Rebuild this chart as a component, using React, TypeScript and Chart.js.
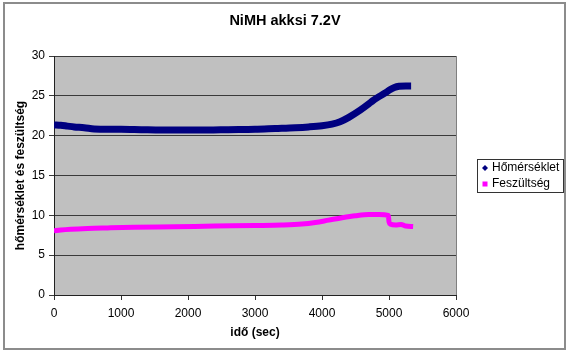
import React, { useEffect, useRef } from 'react';
import { Chart, registerables } from 'chart.js';

Chart.register(...registerables);

const TITLE = 'NiMH akksi 7.2V';
const X_TITLE = 'idő (sec)';
const Y_TITLE = 'hőmérséklet és feszültség';
const SERIES_NAMES = ['Hőmérséklet', 'Feszültség'];
const SERIES_COLORS = ['#000080', '#FF00FF'];

const X_MIN = 0;
const X_MAX = 6000;
const X_STEP = 1000;
const Y_MIN = 0;
const Y_MAX = 30;
const Y_STEP = 5;

const tempTime = [0, 100, 200, 300, 450, 600, 800, 1000, 1300, 1600, 2000, 2300, 2600, 3000, 3300, 3600, 3800, 4000, 4150, 4270, 4400, 4570, 4700, 4760, 4850, 4950, 5020, 5080, 5150, 5250, 5330];
const tempValues = [21.35, 21.3, 21.2, 21.1, 21.0, 20.85, 20.8, 20.8, 20.75, 20.7, 20.7, 20.7, 20.75, 20.8, 20.9, 21.0, 21.1, 21.25, 21.45, 21.75, 22.3, 23.2, 24.0, 24.4, 24.9, 25.4, 25.8, 26.05, 26.2, 26.25, 26.25];

const voltTime = [0, 100, 250, 500, 800, 1200, 1800, 2400, 3000, 3400, 3700, 3900, 4100, 4300, 4500, 4700, 4850, 4990, 5000, 5020, 5100, 5180, 5250, 5360];
const voltValues = [8.05, 8.15, 8.25, 8.35, 8.42, 8.5, 8.57, 8.65, 8.72, 8.78, 8.9, 9.1, 9.4, 9.7, 9.95, 10.1, 10.1, 10.0, 9.2, 8.9, 8.8, 8.85, 8.65, 8.6];

const FONT = 'Arial, "Liberation Sans", sans-serif';

const decorPlugin = {
  id: 'decor',
  beforeDraw(chart: any) {
    const { ctx, chartArea: a } = chart;
    ctx.save();
    ctx.fillStyle = '#ffffff';
    ctx.fillRect(0, 0, chart.width, chart.height);
    ctx.strokeStyle = '#8c8c8c';
    ctx.lineWidth = 2;
    ctx.strokeRect(4, 3, 561, 346);
    ctx.fillStyle = '#c0c0c0';
    ctx.fillRect(a.left, a.top, a.right - a.left, a.bottom - a.top);
    ctx.restore();
  },
  afterDraw(chart: any) {
    const { ctx, chartArea: a } = chart;
    ctx.save();
    ctx.strokeStyle = '#808080';
    ctx.lineWidth = 1;
    ctx.beginPath();
    ctx.moveTo(Math.round(a.right) + 0.5, a.top);
    ctx.lineTo(Math.round(a.right) + 0.5, a.bottom);
    ctx.stroke();
    ctx.fillStyle = '#000';
    ctx.font = 'bold 14.5px ' + FONT;
    ctx.textAlign = 'center';
    ctx.textBaseline = 'middle';
    ctx.fillText(TITLE, 285, 21);
    const lx = 477, ly = 159, lw = 86, lh = 33;
    ctx.fillStyle = '#ffffff';
    ctx.fillRect(lx, ly, lw, lh);
    ctx.strokeStyle = '#333';
    ctx.lineWidth = 1;
    ctx.strokeRect(lx + 0.5, ly + 0.5, lw, lh);
    ctx.font = '12px ' + FONT;
    ctx.textAlign = 'left';
    ctx.textBaseline = 'middle';
    chart.data.datasets.forEach((ds: any, i: number) => {
      const cy = ly + 9 + i * 16;
      const cx = lx + 8;
      ctx.fillStyle = ds.borderColor;
      if (i === 0) {
        ctx.beginPath();
        ctx.moveTo(cx, cy - 3);
        ctx.lineTo(cx + 3, cy);
        ctx.lineTo(cx, cy + 3);
        ctx.lineTo(cx - 3, cy);
        ctx.closePath();
        ctx.fill();
      } else {
        ctx.fillRect(cx - 2.5, cy - 2.5, 5, 5);
      }
      ctx.fillStyle = '#000';
      ctx.fillText(ds.label, lx + 15, cy);
    });
    ctx.restore();
  },
};

export default function App() {
  const ref = useRef<HTMLCanvasElement | null>(null);
  useEffect(() => {
    if (!ref.current) return;
    const chart = new Chart(ref.current, {
      type: 'scatter',
      data: {
        datasets: [
          {
            label: SERIES_NAMES[0],
            data: tempTime.map((t, i) => ({ x: t, y: tempValues[i] })),
            borderColor: SERIES_COLORS[0],
            backgroundColor: SERIES_COLORS[0],
            showLine: true,
            borderWidth: 7,
            pointRadius: 0,
            cubicInterpolationMode: 'monotone',
          },
          {
            label: SERIES_NAMES[1],
            data: voltTime.map((t, i) => ({ x: t, y: voltValues[i] })),
            borderColor: SERIES_COLORS[1],
            backgroundColor: SERIES_COLORS[1],
            showLine: true,
            borderWidth: 5,
            pointRadius: 0,
            cubicInterpolationMode: 'monotone',
          },
        ],
      },
      options: {
        animation: false,
        responsive: false,
        devicePixelRatio: 1,
        layout: { padding: { left: 4, right: 124, top: 56, bottom: 14 } },
        plugins: {
          legend: { display: false },
          title: { display: false },
          tooltip: { enabled: false },
        },
        scales: {
          x: {
            type: 'linear',
            min: X_MIN,
            max: X_MAX,
            ticks: { stepSize: X_STEP, color: '#000', font: { family: FONT, size: 12 }, padding: 6, maxRotation: 0, callback: (v: any) => String(v) },
            grid: { drawOnChartArea: false, drawTicks: true, tickLength: 5, color: '#333' },
            border: { display: true, color: '#222', width: 1 },
            title: { display: true, text: X_TITLE, color: '#000', font: { family: FONT, size: 12, weight: 'bold' }, padding: { top: 0, bottom: 9 } },
            afterFit: (s: any) => { s.height = 54; },
          },
          y: {
            type: 'linear',
            min: Y_MIN,
            max: Y_MAX,
            ticks: { stepSize: Y_STEP, color: '#000', font: { family: FONT, size: 12 }, padding: 4, callback: (v: any) => String(v) },
            grid: { drawOnChartArea: true, drawTicks: true, tickLength: 5, color: '#3a3a3a' },
            border: { display: true, color: '#222', width: 1 },
            title: { display: true, text: Y_TITLE, color: '#000', font: { family: FONT, size: 12, weight: 'bold' }, padding: { top: 9, bottom: 0 } },
            afterFit: (s: any) => { s.width = 50; },
          },
        },
      },
      plugins: [decorPlugin],
    } as any);
    return () => chart.destroy();
  }, []);
  return (
    <div style={{ position: 'fixed', left: 0, top: 0, width: 580, height: 363, background: '#fff' }}>
      <canvas ref={ref} width={580} height={363} style={{ display: 'block' }} />
    </div>
  );
}
